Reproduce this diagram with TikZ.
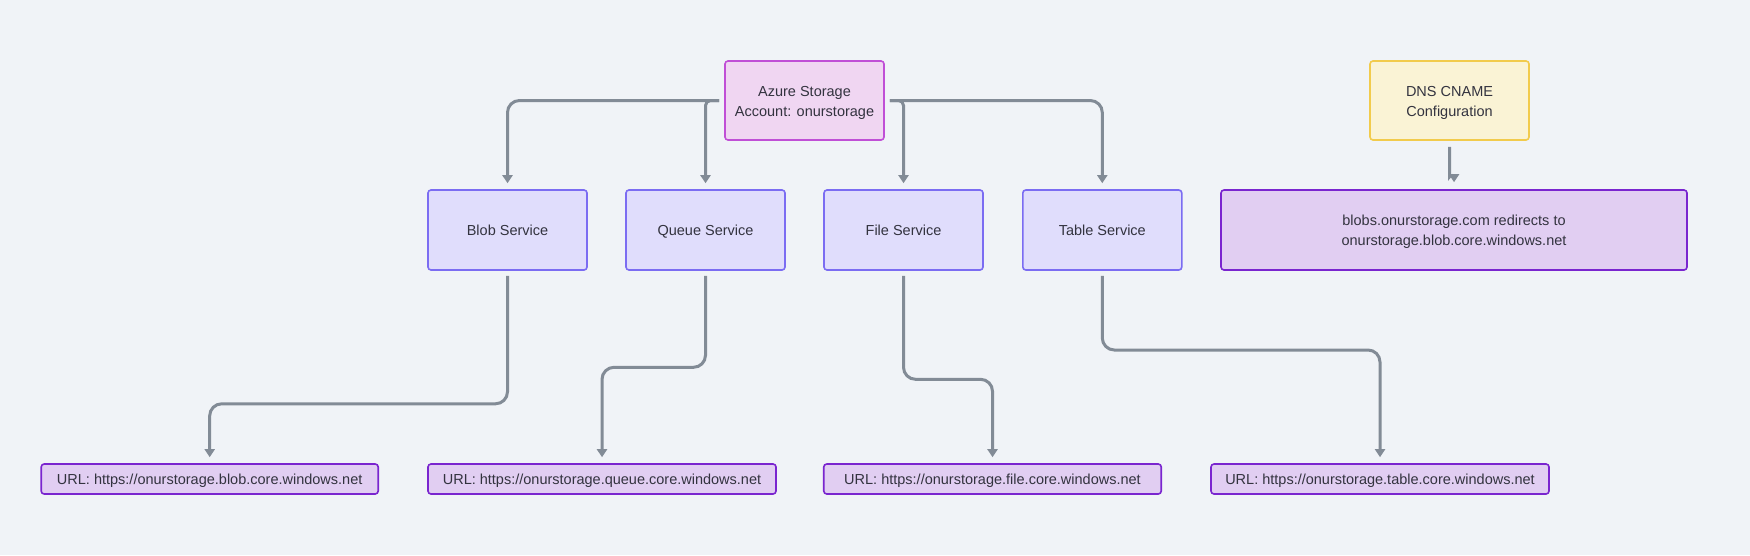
\documentclass[tikz,border=0pt]{standalone}
\usepackage{fontspec}
\setmainfont{Liberation Sans}
\usetikzlibrary{arrows.meta,calc}
\definecolor{bg}{HTML}{F0F3F7}
\definecolor{edgec}{HTML}{828B96}
\definecolor{azfill}{HTML}{F0D6F2}
\definecolor{azdraw}{HTML}{C04FD6}
\definecolor{svfill}{HTML}{E0DDFC}
\definecolor{svdraw}{HTML}{7B6CF2}
\definecolor{dnsfill}{HTML}{FAF3D5}
\definecolor{dnsdraw}{HTML}{F2CB4C}
\definecolor{urlfill}{HTML}{E1CEF2}
\definecolor{urldraw}{HTML}{7A25CF}
\definecolor{txt}{HTML}{33333F}
\newcommand\lnup{\rule{0pt}{14pt}}
\begin{document}
\begin{tikzpicture}[x=1pt,y=-1pt,
  box/.style={draw, line width=1.6pt, rounded corners=3pt, align=center, inner sep=0pt,
    text=txt, font=\fontsize{14.5}{20}\selectfont},
  oneline/.style={text height=10.5pt, text depth=0pt},
  azbox/.style={box, fill=azfill, draw=azdraw, minimum width=159pt, minimum height=79pt},
  dnsbox/.style={box, fill=dnsfill, draw=dnsdraw, minimum width=159pt, minimum height=79pt},
  svbox/.style={box, oneline, fill=svfill, draw=svdraw, minimum width=159pt, minimum height=80pt},
  redirbox/.style={box, fill=urlfill, draw=urldraw, minimum width=466pt, minimum height=80pt},
  urlbox/.style={box, oneline, fill=urlfill, draw=urldraw, minimum height=30pt},
  edge/.style={draw=edgec, line width=3pt, -{Triangle[length=8pt,width=10pt]},
    shorten <=5pt, shorten >=6pt, rounded corners=12pt}
]
\fill[bg] (0,0) rectangle (1750,555);
\useasboundingbox (0,0) rectangle (1750,555);

\node[azbox] (az) at (804.5,100.5) {\lnup Azure Storage\\Account: onurstorage};
\node[dnsbox] (dns) at (1449.5,100.5) {\lnup DNS CNAME\\Configuration};

\node[svbox] (blob) at (507.5,230) {Blob Service};
\node[svbox] (queue) at (705.5,230) {Queue Service};
\node[svbox] (file) at (903.5,230) {File Service};
\node[svbox] (table) at (1102.3,230) {Table Service};
\node[redirbox] (redir) at (1454,230) {\lnup blobs.onurstorage.com redirects to\\onurstorage.blob.core.windows.net};

\node[urlbox, minimum width=337pt] (ublob) at (209.7,479) {URL: https://onurstorage.blob.core.windows.net};
\node[urlbox, minimum width=348pt] (uqueue) at (602,479) {URL: https://onurstorage.queue.core.windows.net};
\node[urlbox, minimum width=337.5pt] (ufile) at (992.5,479) {URL: https://onurstorage.file.core.windows.net};
\node[urlbox, minimum width=338pt] (utable) at (1380,479) {URL: https://onurstorage.table.core.windows.net};

\draw[edge] (az.west) -| (blob.north);
\draw[edge, rounded corners=5pt] (az.west) -| (queue.north);
\draw[edge, rounded corners=5pt] (az.east) -| (file.north);
\draw[edge] (az.east) -| (table.north);

\draw[edge] (blob.south) -- ++(0,133) -| (ublob.north);
\draw[edge] (queue.south) -- ++(0,96.5) -| (uqueue.north);
\draw[edge] (file.south) -- ++(0,108.5) -| (ufile.north);
\draw[edge] (table.south) -- ++(0,79.2) -| (utable.north);

\draw[edge, shorten <=6pt, shorten >=7pt] (dns.south) -- ++(0,24)
  .. controls +(0,10) and +(0,-12) .. (redir.north);
\end{tikzpicture}
\end{document}
